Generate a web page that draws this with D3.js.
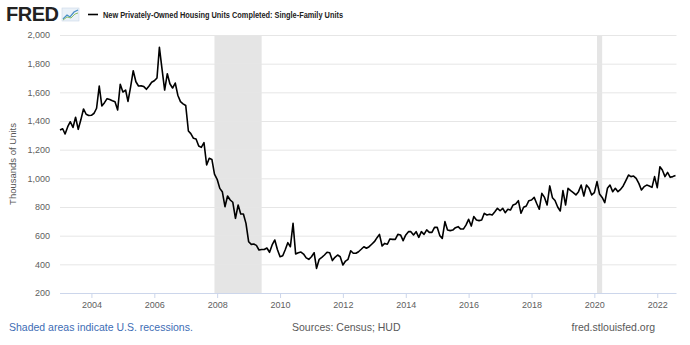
<!DOCTYPE html>
<html>
<head>
<meta charset="utf-8">
<script src="https://cdn.jsdelivr.net/npm/d3@7"></script>
<style>
body{margin:0;background:#fff;}
text{font-family:"Liberation Sans",Arial,sans-serif;}
</style>
</head>
<body>
<script>
const svg_width = 690, svg_height = 345;

// monthly values, thousands of units (SAAR), Jan 2003 onward
var y2003 = [1337,1346,1309,1360,1395,1355,1426,1342,1410,1484,1447,1438];
var y2004 = [1440,1454,1489,1644,1505,1528,1556,1550,1542,1535,1477,1656];
var y2005 = [1602,1616,1537,1640,1751,1674,1644,1645,1640,1621,1644,1670];
var y2006 = [1681,1700,1914,1760,1616,1730,1660,1630,1665,1580,1535,1520];
var y2007 = [1508,1330,1312,1279,1274,1226,1216,1249,1093,1140,1132,1030];
var y2008 = [993,930,907,802,877,849,833,721,814,751,751,686];
var y2009 = [558,539,542,532,500,504,504,514,484,535,570,504];
var y2010 = [453,460,500,551,523,686,472,481,486,472,445,435];
var y2011 = [453,481,372,435,449,465,484,481,426,449,465,453];
var y2012 = [395,423,435,495,477,477,488,505,523,512,523,540];
var y2013 = [558,586,609,528,546,540,577,574,574,609,605,565];
var y2014 = [605,628,628,605,628,588,628,609,640,623,623,658];
var y2015 = [658,600,581,698,639,635,639,656,663,646,646,674];
var y2016 = [714,667,733,709,705,709,756,744,749,744,767,791];
var y2017 = [774,791,760,784,779,814,821,844,756,798,807,844];
var y2018 = [849,867,826,784,895,867,814,947,865,845,800,772];
var y2019 = [914,814,930,914,900,884,907,953,877,953,930,884];
var y2020 = [900,977,891,867,830,930,953,907,930,907,923,947];
var y2021 = [984,1023,1012,1016,1000,965,919,942,953,947,937,1012];
var y2022 = [935,1081,1058,1012,1042,1007,1012,1019];

var recessions = [["2007-12-01","2009-06-01"],["2020-02-01","2020-04-01"]];
var yTicks = [200,400,600,800,1000,1200,1400,1600,1800,2000];
var xTickYears = [2004,2006,2008,2010,2012,2014,2016,2018,2020,2022];

var title = "New Privately-Owned Housing Units Completed: Single-Family Units";
var yLabel = "Thousands of Units";

var allValues = [].concat(y2003,y2004,y2005,y2006,y2007,y2008,y2009,y2010,y2011,
  y2012,y2013,y2014,y2015,y2016,y2017,y2018,y2019,y2020,y2021,y2022);
var data = allValues.map(function(v,i){
  return {date: new Date(2003, i, 1), value: v};
});

var svgContainer = d3.select("body")
.append("svg")
.attr("width",svg_width)
.attr("height",svg_height);

const plotLeft = 60, plotRight = 675.5, plotTop = 35, plotBottom = 293;

var xScale = d3.scaleTime()
.domain([new Date(2003,0,1), data[data.length-1].date])
.range([plotLeft,plotRight]);
var yScale = d3.scaleLinear().domain([200,2000]).range([plotBottom,plotTop]);

//recession shading
svgContainer.append("g").selectAll("rect")
.data(recessions)
.enter()
.append("rect")
.attr("x",function(d){return xScale(new Date(d[0]))})
.attr("y",plotTop)
.attr("width",function(d){return xScale(new Date(d[1])) - xScale(new Date(d[0]))})
.attr("height",plotBottom-plotTop)
.style("fill","#e5e5e5");

//y grid + labels
var yAxis = d3.axisLeft(yScale)
.tickValues(yTicks)
.tickSize(-(plotRight-plotLeft+1))
.tickPadding(10)
.tickFormat(d3.format(","));
var gy = svgContainer.append("g")
.attr("transform","translate(" + plotLeft + ",0)")
.call(yAxis);
gy.select(".domain").remove();
gy.selectAll(".tick line").attr("stroke","#e6e6e6").attr("stroke-width",1);
gy.selectAll(".tick").filter(function(d){return d==200}).select("line").remove();
gy.selectAll(".tick text")
.attr("fill","#606060")
.style("font-size","9px")
.attr("dy","0.32em");

//x axis
var xAxis = d3.axisBottom(xScale)
.tickValues(xTickYears.map(function(y){return new Date(y,0,1)}))
.tickSize(5)
.tickPadding(4)
.tickFormat(d3.timeFormat("%Y"));
var gx = svgContainer.append("g")
.attr("transform","translate(0," + plotBottom + ")")
.call(xAxis);
gx.select(".domain").attr("stroke","#ccd6eb").attr("d","M" + plotLeft + ",0.5H" + (plotRight+1));
gx.selectAll(".tick line").attr("stroke","#ccd6eb");
gx.selectAll(".tick text")
.attr("fill","#606060")
.style("font-size","9px");

//series line
var lineFunction = d3.line()
.x(function(d){return xScale(d.date)})
.y(function(d){return yScale(d.value)});
svgContainer.append("path")
.datum(data)
.attr("d",lineFunction)
.attr("stroke","#000")
.attr("stroke-width",1.6)
.attr("stroke-linejoin","round")
.attr("fill","none");

//y label
svgContainer.append("text")
.attr("transform","translate(16,164) rotate(-90)")
.attr("text-anchor","middle")
.attr("fill","#555")
.style("font-size","9.5px")
.text(yLabel);

//header: logo + legend
svgContainer.append("text")
.attr("x",6).attr("y",21)
.style("font-size","20px")
.style("font-weight","900")
.style("letter-spacing","-0.5px")
.attr("fill","#222")
.text("FRED");
var icon = svgContainer.append("g").attr("transform","translate(62,8)");
icon.append("rect").attr("width",17).attr("height",13).attr("fill","#eaf1f8").attr("stroke","#c9d8e8").attr("stroke-width",0.6);
icon.append("polyline").attr("points","1,11 5,7 8,9 12,4 16,2").attr("fill","none").attr("stroke","#4a90c8").attr("stroke-width",1.3);
icon.append("polyline").attr("points","1,12 5,9 9,10 13,6 16,5").attr("fill","none").attr("stroke","#8cc06a").attr("stroke-width",1);

svgContainer.append("line")
.attr("x1",88).attr("x2",98).attr("y1",14.5).attr("y2",14.5)
.attr("stroke","#000").attr("stroke-width",1.6);
svgContainer.append("text")
.attr("x",103).attr("y",17.5)
.attr("fill","#222")
.style("font-size","9px")
.style("font-weight","bold")
.attr("textLength",240)
.attr("lengthAdjust","spacingAndGlyphs")
.text(title);

//footer
svgContainer.append("text")
.attr("x",9).attr("y",331)
.attr("fill","#3d6cb4")
.style("font-size","10.5px")
.text("Shaded areas indicate U.S. recessions.");
svgContainer.append("text")
.attr("x",292).attr("y",331)
.attr("fill","#595959")
.style("font-size","10.5px")
.text("Sources: Census; HUD");
svgContainer.append("text")
.attr("x",655).attr("y",331)
.attr("text-anchor","end")
.attr("fill","#595959")
.style("font-size","10.5px")
.text("fred.stlouisfed.org");
</script>
</body>
</html>
